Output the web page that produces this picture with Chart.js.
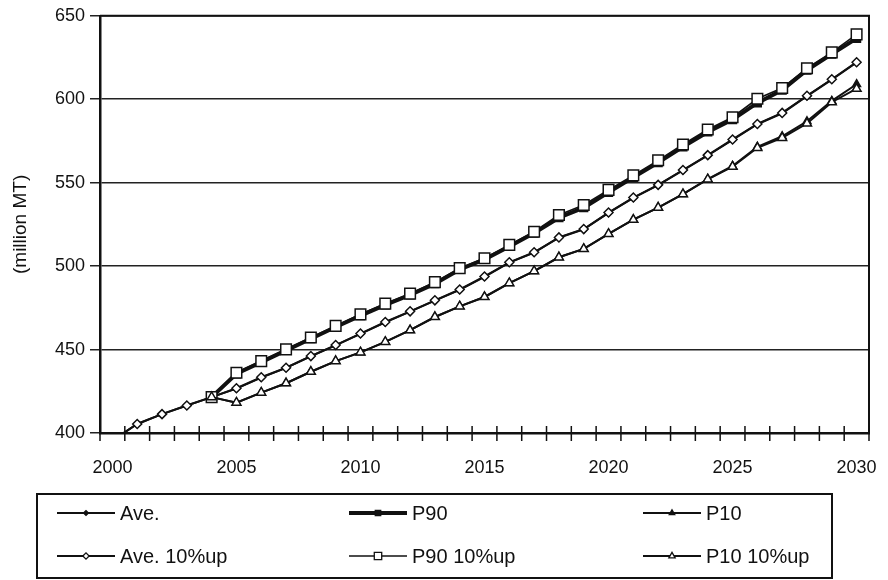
<!DOCTYPE html>
<html>
<head>
<meta charset="utf-8">
<title>Projection (million MT)</title>
<script src="https://cdn.jsdelivr.net/npm/chart.js@4.4.1/dist/chart.umd.min.js"></script>
<style>
  html, body { margin: 0; padding: 0; background: #fff; }
  canvas { display: block; }
</style>
</head>
<body>
<canvas id="projection-chart" width="888" height="580"></canvas>
<script>
// Yearly values, million MT
const years = ['2000', '2001', '2002', '2003', '2004', '2005', '2006', '2007', '2008', '2009',
               '2010', '2011', '2012', '2013', '2014', '2015', '2016', '2017', '2018', '2019',
               '2020', '2021', '2022', '2023', '2024', '2025', '2026', '2027', '2028', '2029', '2030'];

const ave = [395.5, 405.4, 411.3, 416.5, 421.5, 426.6, 433.2, 439.0, 446.0, 452.5,
             459.4, 466.3, 472.7, 479.3, 485.8, 493.6, 502.1, 508.1, 517.0, 522.0,
             531.9, 540.9, 548.5, 557.4, 566.3, 575.7, 585.0, 591.6, 601.9, 611.8, 622.0];
const p90 = [null, null, null, null, 421.5, 435.5, 442.5, 449.5, 456.5, 463.5,
             470.3, 476.8, 482.8, 489.5, 498.0, 504.0, 511.8, 519.8, 529.0, 535.0,
             544.2, 553.2, 562.0, 571.5, 580.4, 587.8, 597.8, 605.5, 617.5, 627.0, 636.5];
const p10 = [null, null, null, null, 421.5, 418.2, 424.2, 429.8, 436.7, 443.1,
             448.3, 454.6, 461.6, 469.5, 475.9, 481.5, 489.8, 497.0, 505.3, 510.3,
             519.3, 527.8, 535.1, 543.1, 552.2, 560.0, 571.5, 577.8, 586.8, 599.0, 609.0];
const ave10 = [395.5, 405.4, 411.3, 416.5, 421.5, 426.8, 433.4, 439.1, 446.1, 452.7,
               459.6, 466.5, 472.9, 479.5, 486.0, 493.8, 502.3, 508.3, 517.2, 522.2,
               532.1, 541.1, 548.7, 557.6, 566.5, 575.9, 585.2, 591.8, 602.1, 612.0, 622.2];
const p90up = [null, null, null, null, 421.5, 436.1, 443.1, 450.1, 457.2, 464.2,
               471.1, 477.5, 483.5, 490.4, 498.8, 504.7, 512.7, 520.6, 530.6, 536.6,
               545.7, 554.4, 563.4, 572.9, 581.9, 589.2, 600.3, 606.7, 618.6, 628.1, 638.9];
const p10up = [null, null, null, null, 421.5, 418.2, 424.2, 429.8, 436.7, 443.1,
               448.3, 454.6, 461.6, 469.5, 475.9, 481.5, 489.8, 497.0, 505.3, 510.3,
               519.3, 527.8, 535.1, 543.1, 552.0, 559.6, 570.9, 576.9, 585.5, 598.2, 606.3];

const yTicks = [400, 450, 500, 550, 600, 650];

const FONT = "'Liberation Sans', Arial, sans-serif";
const INK = '#111';

// label, values, marker shape/size, filled marker?, line width
const series = [
    { label: 'Ave.',       data: ave,   style: 'rectRot',  radius: 3.5, filled: true,  width: 2 },
    { label: 'P90',        data: p90,   style: 'rect',     radius: 5.5, filled: true,  width: 4 },
    { label: 'P10',        data: p10,   style: 'triangle', radius: 4.5, filled: true,  width: 2 },
    { label: 'Ave. 10%up', data: ave10, style: 'rectRot',  radius: 4.5, filled: false, width: 2 },
    { label: 'P90 10%up',  data: p90up, style: 'rect',     radius: 7.5, filled: false, width: 1.6 },
    { label: 'P10 10%up',  data: p10up, style: 'triangle', radius: 5.2, filled: false, width: 2 }
];

const datasets = series.map((s, i) => ({
    label: s.label,
    data: s.data,
    borderColor: INK,
    borderWidth: s.width,
    pointStyle: s.style,
    pointRadius: s.radius,
    pointHoverRadius: s.radius,
    pointBackgroundColor: s.filled ? INK : '#fff',
    pointBorderColor: INK,
    pointBorderWidth: 1.5,
    tension: 0,
    // later series sit on top of earlier ones
    order: series.length - i
}));

// top/right frame plus cross tick marks on the category axis
const framePlugin = {
    id: 'frame',
    afterDraw(chart) {
        const { ctx, chartArea: a } = chart;
        const xs = chart.scales.x;
        ctx.save();
        ctx.strokeStyle = INK;
        ctx.lineWidth = 2;
        ctx.beginPath();
        ctx.moveTo(a.left, a.top);
        ctx.lineTo(a.right, a.top);
        ctx.lineTo(a.right, a.bottom);
        ctx.stroke();

        ctx.lineWidth = 1.5;
        ctx.beginPath();
        const n = years.length;
        for (let i = 0; i <= n; i++) {
            let x;
            if (i === 0) x = a.left;
            else if (i === n) x = a.right;
            else x = (xs.getPixelForValue(i - 1) + xs.getPixelForValue(i)) / 2;
            ctx.moveTo(x, a.bottom - 7);
            ctx.lineTo(x, a.bottom + 8);
        }
        ctx.stroke();
        ctx.restore();
    }
};

// boxed legend, three columns by two rows
const legendPlugin = {
    id: 'boxLegend',
    afterDraw(chart) {
        const ctx = chart.ctx;
        const box = { left: 37, top: 494, width: 795, height: 84 };
        const colX = [57, 349, 643];
        const rowY = [513, 556];
        const lineLen = 58;

        ctx.save();
        ctx.strokeStyle = INK;
        ctx.lineWidth = 2;
        ctx.strokeRect(box.left, box.top, box.width, box.height);

        ctx.font = '20px ' + FONT;
        ctx.textBaseline = 'middle';
        ctx.textAlign = 'left';
        chart.data.datasets.forEach((ds, i) => {
            const x0 = colX[i % 3];
            const y = rowY[Math.floor(i / 3)];
            ctx.strokeStyle = INK;
            ctx.lineWidth = ds.borderWidth;
            ctx.beginPath();
            ctx.moveTo(x0, y);
            ctx.lineTo(x0 + lineLen, y);
            ctx.stroke();

            ctx.fillStyle = ds.pointBackgroundColor;
            ctx.strokeStyle = INK;
            ctx.lineWidth = 1.3;
            Chart.helpers.drawPoint(ctx, {
                pointStyle: ds.pointStyle,
                rotation: 0,
                radius: ds.pointRadius * 0.7,
                borderWidth: 1.3
            }, x0 + lineLen / 2, y);

            ctx.fillStyle = INK;
            ctx.fillText(ds.label, x0 + lineLen + 5, y + 1);
        });
        ctx.restore();
    }
};

const ctx = document.getElementById('projection-chart').getContext('2d');
new Chart(ctx, {
    type: 'line',
    data: { labels: years, datasets: datasets },
    options: {
        responsive: false,
        animation: false,
        events: [],
        layout: { padding: { top: 14, right: 19, bottom: 97, left: 0 } },
        scales: {
            x: {
                type: 'category',
                offset: true,
                grid: { display: false },
                border: { display: true, color: INK, width: 2.5 },
                afterFit(scale) {
                    scale.height = 50;
                    scale.paddingLeft = 0;
                    scale.paddingRight = 0;
                },
                ticks: {
                    autoSkip: false,
                    maxRotation: 0,
                    minRotation: 0,
                    padding: 16,
                    color: INK,
                    font: { family: FONT, size: 18 },
                    callback: (val, i) => (i % 5 === 0 ? years[i] : '')
                }
            },
            y: {
                min: yTicks[0],
                max: yTicks[yTicks.length - 1],
                afterFit(scale) { scale.width = 100; },
                afterBuildTicks(scale) { scale.ticks = yTicks.map(v => ({ value: v })); },
                grid: { color: '#222', lineWidth: 1.5, drawTicks: true, tickLength: 10 },
                border: { display: true, color: INK, width: 2.5 },
                ticks: {
                    padding: 5,
                    color: INK,
                    font: { family: FONT, size: 18 }
                },
                title: {
                    display: true,
                    text: '(million MT)',
                    color: INK,
                    font: { family: FONT, size: 19 },
                    padding: { top: 9, bottom: 0 }
                }
            }
        },
        plugins: {
            legend: { display: false },
            tooltip: { enabled: false }
        }
    },
    plugins: [framePlugin, legendPlugin]
});
</script>
</body>
</html>
